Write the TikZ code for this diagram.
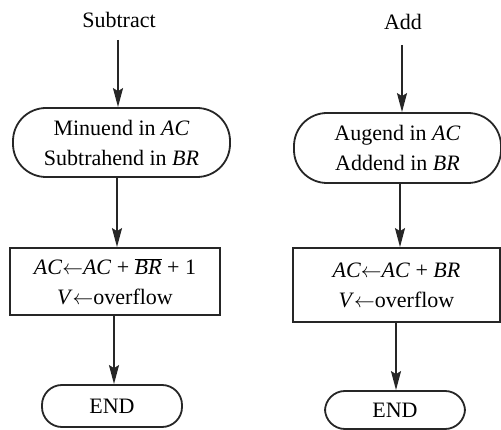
\documentclass[tikz,border=0pt]{standalone}
\usepackage{fontspec}
\setmainfont{Liberation Serif}
\usetikzlibrary{arrows.meta}
\begin{document}
\begin{tikzpicture}[x=1pt,y=-1pt,
  every node/.style={font=\fontsize{22}{30}\selectfont, text=black},
  term/.style={draw=black!85, line width=1.8pt, rounded corners=33pt, align=center, inner sep=0pt},
  endbox/.style={draw=black!85, line width=1.8pt, rounded corners=20pt, align=center, inner sep=0pt},
  proc/.style={draw=black!85, line width=1.8pt, align=center, inner sep=0pt},
  arr/.style={draw=black!85, line width=1.8pt, -{Stealth[length=19pt,width=10pt,inset=3pt]}}]
\useasboundingbox (0,0) rectangle (501,430);
% left column
\node (sub) at (119,20) {Subtract};
\node[term, minimum width=217pt, minimum height=69pt] (m1) at (121.5,142.5)
  {Minuend in \textit{AC}\\Subtrahend in \textit{BR}};
\node[proc, minimum width=210pt, minimum height=67pt] (r1) at (115,281.5)
  {\textit{AC}$\leftarrow$\textit{AC} + $\overline{\hbox{\textit{BR}}}$ + 1\\\textit{V}$\leftarrow$overflow};
\node[endbox, minimum width=140pt, minimum height=42pt] (e1) at (112,406) {END};
\coordinate (s1) at (118,40);
\draw[arr] (s1) -- (s1 |- m1.north);
\draw[arr] (117,0 |- m1.south) -- (117,0 |- r1.north);
\draw[arr] (114,0 |- r1.south) -- (114,0 |- e1.north);
% right column
\node (add) at (403,22) {Add};
\node[term, minimum width=207pt, minimum height=70pt] (m2) at (397.5,148)
  {Augend in \textit{AC}\\Addend in \textit{BR}};
\node[proc, minimum width=207pt, minimum height=74pt] (r2) at (396.5,285)
  {\textit{AC}$\leftarrow$\textit{AC} + \textit{BR}\\\textit{V}$\leftarrow$overflow};
\node[endbox, minimum width=140pt, minimum height=38pt] (e2) at (395,410) {END};
\coordinate (s2) at (402,45);
\draw[arr] (s2) -- (s2 |- m2.north);
\draw[arr] (400,0 |- m2.south) -- (400,0 |- r2.north);
\draw[arr] (396,0 |- r2.south) -- (396,0 |- e2.north);
\end{tikzpicture}
\end{document}
